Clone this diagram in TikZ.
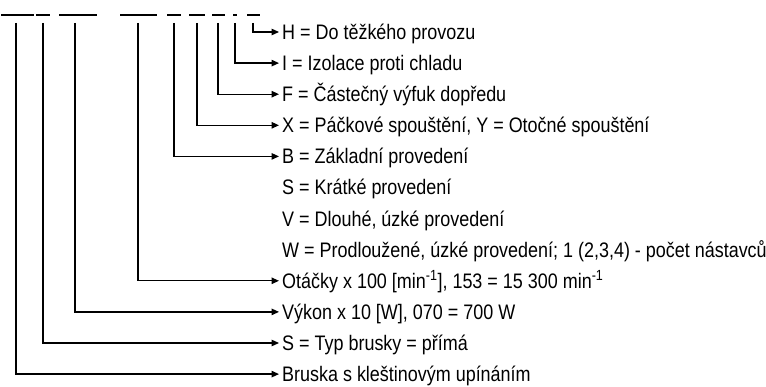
\documentclass[tikz,border=0pt]{standalone}
\usepackage{fontspec}
\setmainfont[FakeStretch=0.855]{Liberation Sans}
\usetikzlibrary{arrows.meta}
\begin{document}
\begin{tikzpicture}[x=1pt,y=-1pt,
    popis/.style={anchor=west,inner xsep=3pt,inner ysep=0pt,text height=15pt,text depth=0pt,font=\fontsize{21}{25}\selectfont},
    sipka/.style={-{Triangle[length=7.5pt,width=6.5pt]},line width=1.3pt},
    pruh/.style={line width=2.4pt}]
    \useasboundingbox (0,0) rectangle (766,387);
    % pruhy nad kodem
    \foreach \a/\b in {1/34,36/50,59/97,120/157,167/181,189/205,212/225,233/237,247/260}
        \draw[pruh] (\a,15) -- (\b,15);
    % popisy
    \foreach \n/\t [count=\k from 0] in {h/{H = Do těžkého provozu},
            i/{I = Izolace proti chladu},
            f/{F = Částečný výfuk dopředu},
            x/{X = Páčkové spouštění, Y = Otočné spouštění},
            b/{B = Základní provedení},
            s/{S = Krátké provedení},
            v/{V = Dlouhé, úzké provedení},
            w/{W = Prodloužené, úzké provedení; 1 (2,3,4) - počet nástavců},
            ot/{Otáčky x 100 [min\textsuperscript{-1}], 153 = 15 300 min\textsuperscript{-1}},
            vy/{Výkon x 10 [W], 070 = 700 W},
            st/{S = Typ brusky = přímá},
            br/{Bruska s kleštinovým upínáním}}
        \node[popis] (\n) at (279,32+31.1*\k) {\t};
    % spojnice
    \foreach \x/\n in {16/br,43/st,75/vy,138/ot,174/b,197/x,218/f,235/i,253/h}{
        \coordinate (k\n) at (\x,23);
        \draw[sipka] (k\n) |- (\n.west);
    }
\end{tikzpicture}
\end{document}
